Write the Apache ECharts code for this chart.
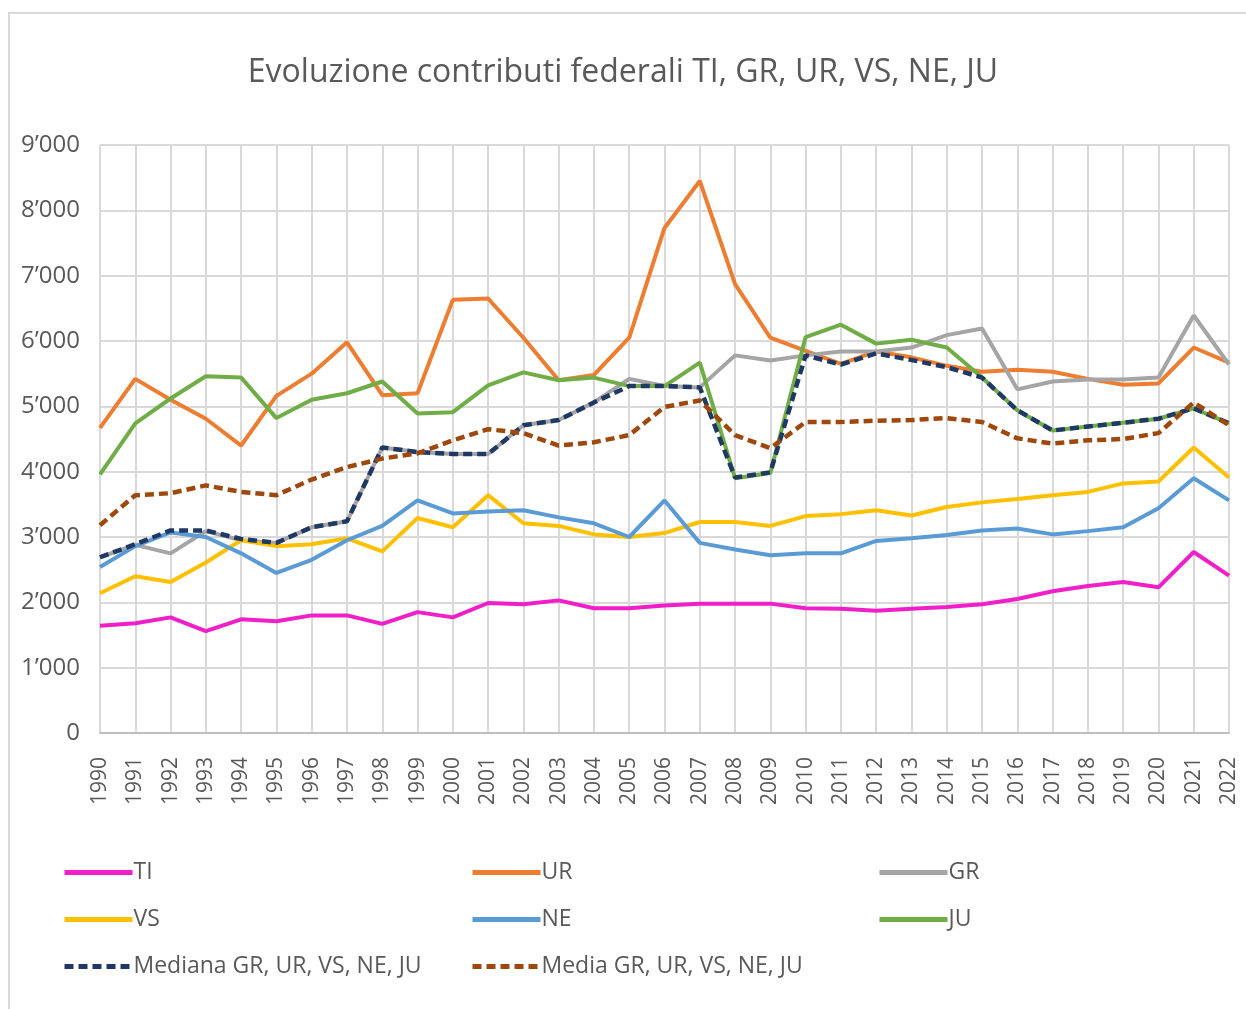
<!DOCTYPE html>
<html><head><meta charset="utf-8">
<script src="https://cdn.jsdelivr.net/npm/echarts@6/dist/echarts.min.js"></script>
<style>html,body{margin:0;padding:0;background:#fff}#c{width:1246px;height:1009px}</style>
</head><body><div id="c"></div>
<script>
const years = [1990,1991,1992,1993,1994,1995,1996,1997,1998,1999,2000,2001,2002,2003,2004,2005,2006,2007,2008,2009,2010,2011,2012,2013,2014,2015,2016,2017,2018,2019,2020,2021,2022].map(String);
const yTicks = ['0','1’000','2’000','3’000','4’000','5’000','6’000','7’000','8’000','9’000'];
const TI = [1640,1680,1770,1560,1740,1710,1800,1800,1670,1850,1770,1990,1970,2030,1910,1910,1950,1980,1980,1980,1910,1900,1870,1900,1930,1970,2050,2170,2250,2310,2230,2770,2410];
const UR = [4670,5420,5100,4810,4400,5160,5500,5980,5170,5200,6630,6650,6050,5400,5480,6050,7730,8450,6870,6050,5850,5650,5840,5750,5620,5530,5560,5530,5420,5330,5350,5900,5670];
const GR = [2690,2880,2750,3090,2950,2910,3150,3240,4370,4300,4270,4270,4710,4790,5060,5420,5310,5290,5780,5700,5780,5840,5840,5900,6090,6190,5260,5380,5410,5410,5440,6390,5640];
const VS = [2140,2400,2310,2610,2950,2860,2890,2980,2780,3290,3150,3640,3210,3170,3040,3000,3060,3230,3230,3170,3320,3350,3410,3330,3460,3530,3580,3640,3690,3820,3850,4370,3910];
const NE = [2540,2860,3070,3000,2750,2450,2650,2950,3170,3560,3360,3390,3410,3300,3210,3000,3560,2910,2810,2720,2750,2750,2940,2980,3030,3100,3130,3040,3090,3150,3440,3900,3560];
const JU = [3960,4740,5120,5460,5440,4820,5100,5200,5380,4890,4910,5320,5520,5400,5440,5310,5310,5670,3900,3980,6060,6250,5960,6020,5900,5440,4940,4630,4690,4750,4810,4970,4740];
const MEDIANA = [2690,2890,3100,3100,2970,2910,3150,3240,4370,4300,4270,4270,4710,4790,5060,5310,5310,5290,3910,3990,5780,5640,5810,5710,5600,5440,4940,4630,4690,4750,4810,4970,4740];
const MEDIA = [3180,3640,3670,3790,3690,3640,3880,4070,4200,4280,4480,4650,4590,4400,4450,4560,4990,5090,4560,4360,4760,4760,4780,4790,4820,4760,4510,4430,4480,4500,4590,5060,4710];

const FONT = '"Open Sans","Liberation Sans",sans-serif';
const TXT = '#595959';
const names = ['TI','UR','GR','VS','NE','JU','Mediana GR, UR, VS, NE, JU','Media GR, UR, VS, NE, JU'];
const data = [TI,UR,GR,VS,NE,JU,MEDIANA,MEDIA];
const colors = ['#F01FC8','#ED7D31','#A5A5A5','#FFC000','#5B9BD5','#70AD47','#203864','#9E480E'];
const dashed = [false,false,false,false,false,false,true,true];

const chart = echarts.init(document.getElementById('c'));
const legendCommon = {orient:'vertical', top:856, itemWidth:68, itemHeight:14, itemGap:24,
  itemStyle:{color:'rgba(0,0,0,0)',borderWidth:0,opacity:0},
  lineStyle:{width:5},
  textStyle:{fontFamily:FONT,fontSize:23,color:TXT,padding:[0,0,0,-4]}};
chart.setOption({
  animation:false,
  textStyle:{fontFamily:FONT},
  graphic:[{type:'rect',shape:{x:9,y:13,width:1260,height:1020},style:{fill:'none',stroke:'#d9d9d9',lineWidth:2},silent:true}],
  title:{text:'Evoluzione contributi federali TI, GR, UR, VS, NE, JU',left:'center',top:52,
    textStyle:{fontFamily:FONT,fontSize:32,fontWeight:'normal',color:TXT}},
  grid:{left:100,right:17,top:145,bottom:276,containLabel:false},
  xAxis:{type:'category',data:years,boundaryGap:false,
    axisLine:{lineStyle:{color:'#bfbfbf',width:2}},axisTick:{show:false},
    axisLabel:{rotate:90,margin:24,fontSize:21,color:TXT,fontFamily:FONT,interval:0},
    splitLine:{show:true,lineStyle:{color:'#d9d9d9',width:2}}},
  yAxis:{type:'value',min:0,max:9000,interval:1000,
    axisLine:{show:false},axisTick:{show:false},
    axisLabel:{margin:20,fontSize:24,color:TXT,fontFamily:FONT,formatter:(v)=>yTicks[Math.round(v/1000)]},
    splitLine:{lineStyle:{color:'#d9d9d9',width:2}}},
  legend:[
    Object.assign({left:57,data:[names[0],names[3],names[6]]},legendCommon),
    Object.assign({left:465,data:[names[1],names[4],names[7]]},legendCommon),
    Object.assign({left:872,data:[names[2],names[5]]},legendCommon)
  ],
  series:names.map((n,i)=>({name:n,type:'line',data:data[i],symbol:'none',
    itemStyle:{color:colors[i]},
    lineStyle:{color:colors[i],width:dashed[i]?4.5:4,type:dashed[i]?[9,5]:'solid'}}))
});
</script></body></html>
